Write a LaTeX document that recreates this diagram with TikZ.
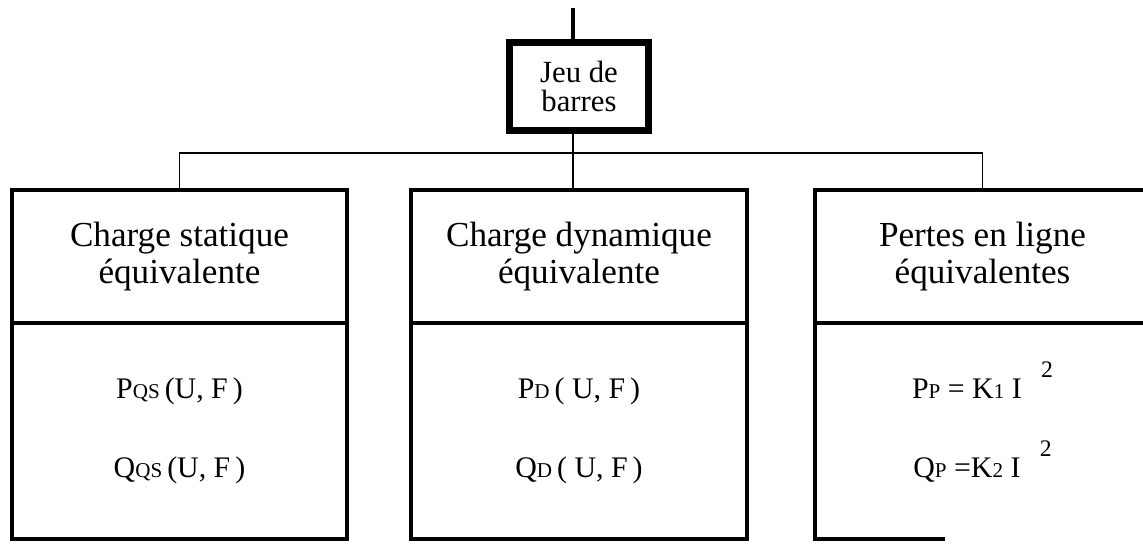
\documentclass[tikz,border=0pt]{standalone}
\usepackage{fontspec}
\setmainfont{Liberation Serif}
\usetikzlibrary{positioning}
\newcommand{\sm}[1]{{\fontsize{12}{12}\selectfont #1}}
\newcommand{\sqr}{\hspace{11pt}\smash{\raisebox{12pt}{\fontsize{13.5}{14}\selectfont 2}}}
\tikzset{
  busbox/.style={draw, line width=4.5pt, minimum width=27.8mm, minimum height=17.6mm,
    inner sep=0pt, outer sep=0pt, align=center, font=\fontsize{17.5}{17}\selectfont},
  headbox/.style={draw, line width=2.2pt, minimum width=67.1mm, minimum height=26.6mm,
    inner sep=0pt, outer sep=0pt, align=center, font=\fontsize{20}{21}\selectfont},
  bodybox/.style={headbox, minimum height=43.2mm, font=\fontsize{17}{45}\selectfont},
  stub/.style={line width=2.3pt},
  feeder/.style={line width=1.1pt},
}

\begin{document}
\begin{tikzpicture}[x=0.2mm, y=-0.2mm]
			\useasboundingbox (0,0) rectangle (1143,546);
			
			%%%%% bus %%%%%
			\coordinate (feed) at (573,8);
			\coordinate (hub) at (573,153);
			\node[busbox] (bus) at (579,86.5) {Jeu de\\barres};
			\draw[stub] (feed) -- (feed |- bus.north);
			\draw[feeder] (feed |- bus.south) -- (hub);
			
			%%%%% loads %%%%%
			\node[headbox] (hstat) at (179.5,256.4) {Charge statique\\équivalente};
			\node[bodybox, below=0pt of hstat] (bstat) {P\sm{QS}\,(U, F\,)\\Q\sm{QS}\,(U, F\,)};
			
			\node[headbox] (hdyn) at (579,256.4) {Charge dynamique\\équivalente};
			\node[bodybox, below=0pt of hdyn] (bdyn) {P\sm{D}\,( U, F\,)\\Q\sm{D}\,( U, F\,)};
			
			\node[headbox] (hline) at (982.5,256.4) {Pertes en ligne\\équivalentes};
			\node[bodybox, draw=none, below=0pt of hline] (bline) {P\sm{P} = K\sm{1} I\sqr\\Q\sm{P} =K\sm{2} I\sqr};
			\draw[line width=2.2pt] (bline.north west) -- (bline.south west) -- ++(130,0);
			
			%%%%% connections %%%%%
			\draw[feeder] (hstat.north) |- (hub) -| (hline.north);
			\draw[feeder] (hub) -- (hub |- hdyn.north);
			
\end{tikzpicture}
\end{document}
